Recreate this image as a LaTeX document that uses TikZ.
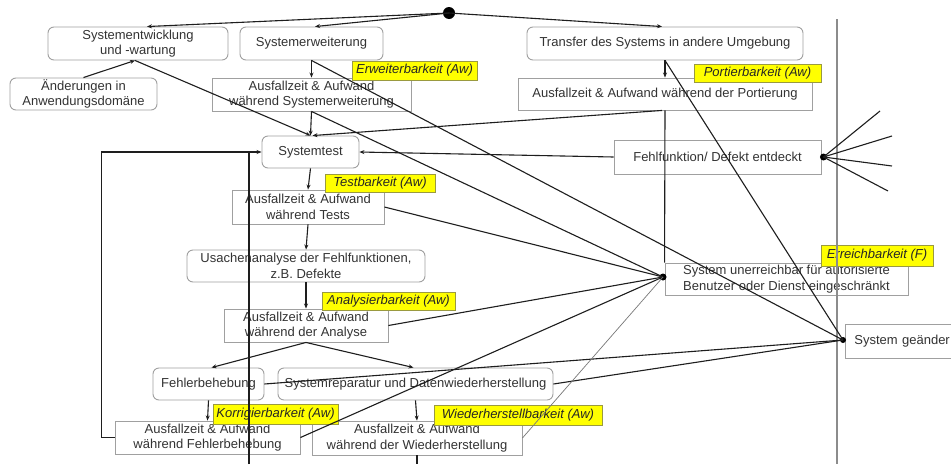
\documentclass[tikz,border=0pt]{standalone}
\usepackage{fontspec}
\setmainfont{Liberation Sans}
\usetikzlibrary{arrows.meta,calc}
\definecolor{boxline}{HTML}{A0A0A0}
\definecolor{ink}{HTML}{333333}
\definecolor{wirecol}{HTML}{1E1E1E}
\definecolor{tagfill}{HTML}{FFFF00}
\definecolor{tagline}{HTML}{9A9A40}
\definecolor{sepcol}{HTML}{8C8C8C}

\begin{document}
\begin{tikzpicture}[x=1pt,y=-1pt,
  every node/.style={font=\fontsize{13}{15.5}\selectfont, text=ink, inner sep=0pt, align=center},
  rbox/.style={draw=boxline, line width=0.9pt, rounded corners=6pt, fill=white},
  sbox/.style={draw=boxline, line width=0.9pt, fill=white},
  tag/.style={draw=tagline, line width=0.6pt, fill=tagfill, text=black!85,
              font=\fontsize{13}{15.5}\selectfont\itshape},
  wire/.style={draw=wirecol, line width=1.1pt},
  arr/.style={wire, -{Stealth[length=5pt,width=4pt]}},
  junction/.style={circle, fill=black, inner sep=0pt, minimum size=#1},
]
\useasboundingbox (0,0) rectangle (951,464);
\fill[white] (0,0) rectangle (951,464);
\clip (0,0) rectangle (951,464);

% ---------- boxes ----------
\node[rbox, minimum width=180, minimum height=33] (sysent)  at (138,43.5)   {Systementwicklung\\und -wartung};
\node[rbox, minimum width=147, minimum height=32] (aend)    at (83.5,94)    {Änderungen in\\Anwendungsdomäne};
\node[rbox, minimum width=143, minimum height=33] (syserw)  at (311.5,43.5) {Systemerweiterung};
\node[rbox, minimum width=276, minimum height=33] (transfer) at (665,43.5)  {Transfer des Systems in andere Umgebung};
\node[sbox, minimum width=199, minimum height=33] (afse)    at (311.5,94.5) {Ausfallzeit \& Aufwand\\während Systemerweiterung};
\node[sbox, minimum width=294, minimum height=32] (afport)  at (665,94)     {Ausfallzeit \& Aufwand während der Portierung};
\node[rbox, minimum width=97,  minimum height=32] (systest) at (310.5,152)  {Systemtest};
\node[sbox, minimum width=207, minimum height=34] (fehlf)   at (717.5,157)  {Fehlfunktion/ Defekt entdeckt};
\node[sbox, minimum width=152, minimum height=34] (aftest)  at (308,207)    {Ausfallzeit \& Aufwand\\während Tests};
\node[rbox, minimum width=238, minimum height=32] (ursache) at (306,266)    {Usachenanalyse der Fehlfunktionen,\\z.B. Defekte};
\node[sbox, minimum width=164, minimum height=33] (afana)   at (306,325.5)  {Ausfallzeit \& Aufwand\\während der Analyse};
\node[rbox, minimum width=111, minimum height=32] (fehlerb) at (208.5,384)  {Fehlerbehebung};
\node[rbox, minimum width=275, minimum height=32] (sysrep)  at (415.5,384)  {Systemreparatur und Datenwiederherstellung};
\node[sbox, minimum width=185, minimum height=33] (affb)    at (207.5,437.5) {Ausfallzeit \& Aufwand\\während Fehlerbehebung};
\node[sbox, minimum width=210, minimum height=34] (afwh)    at (417,438)    {Ausfallzeit \& Aufwand\\während der Wiederherstellung};
\node[sbox, minimum width=243, minimum height=32] (unerr)   at (786.5,279)  {System unerreichbar für autorisierte\\Benutzer oder Dienst eingeschränkt};
% this box runs on past the right edge of the drawing
\node[sbox, minimum height=34, text width=125, inner xsep=9pt, align=left, anchor=west] (geaend) at (845,341) {System geänder};

% ---------- quality tags ----------
\node[tag, minimum width=125, minimum height=19] (tagerw)  at (414.5,70.5) {Erweiterbarkeit (Aw)};
\node[tag, minimum width=127, minimum height=18] (tagport) at (757.5,73)   {Portierbarkeit (Aw)};
\node[tag, minimum width=110, minimum height=18] (tagtest) at (380,183)    {Testbarkeit (Aw)};
\node[tag, minimum width=133, minimum height=18] (tagana)  at (388.5,301)  {Analysierbarkeit (Aw)};
\node[tag, minimum width=125, minimum height=20] (tagkorr) at (275.5,414.5) {Korrigierbarkeit (Aw)};
\node[tag, minimum width=168, minimum height=20] (tagwh)   at (518,415)    {Wiederherstellbarkeit (Aw)};
\node[tag, minimum width=112, minimum height=21] (tagerr)  at (877,255.5)  {Erreichbarkeit (F)};

% ---------- junction points ----------
\node[junction=12pt] (start) at (449,13) {};
\node[junction=7pt]  (fdot)  at ([xshift=2]fehlf.east) {};
\node[junction=7pt]  (udot)  at (663,277) {};
\node[junction=6pt]  (gdot)  at (843,340) {};

\coordinate (f1) at (880,111);
\coordinate (f2) at (892,136);
\coordinate (f3) at (892,166);
\coordinate (f4) at (888,191);
\coordinate (septop) at (837,19);
\coordinate (sepbot) at (837,464);
\coordinate (lowleft) at (249,464);
\coordinate (lowmid) at (417,464);

% ---------- separator ----------
\draw[draw=sepcol, line width=1.3pt] (septop) -- (sepbot);

% ---------- connectors ----------
\draw[arr] (start.center) -- ([xshift=9]sysent.north);
\draw[arr] (start.center) -- ([xshift=3.5]syserw.north);
\draw[arr] (start.center) -- ([xshift=-3]transfer.north);

\draw[arr] (aend.north) -- ([xshift=-3]sysent.south);
\draw[arr] ([xshift=-3]sysent.south) -- (systest.north);

\draw[arr] (syserw.south) -- (afse.north);
\draw[wire] (syserw.south) -- (gdot.center);
\draw[arr] (afse.south) -- (systest.north);
\draw[wire] (afse.south) -- (udot.center);

\draw[arr] (transfer.south) -- (afport.north);
\draw[wire] (transfer.south) -- (gdot.center);
\draw[arr] ([xshift=-3]afport.south) -- ([xshift=2]systest.north);
\draw[wire] (afport.south) -- (unerr.north west);

\draw[arr] (fehlf.west) -- (systest.east);
\foreach \t in {f1,f2,f3,f4} \draw[wire] (fdot.center) -- (\t);

\draw[arr] (affb.west) -- ++(-13,0) |- (systest.west);
\draw[wire] (lowleft) -- (lowleft |- systest.west);

\draw[arr] (systest.south) -- (aftest.north);
\draw[arr] (aftest.south) -- (ursache.north);
\draw[wire] (aftest.east) -- (udot.center);
\draw[arr] (ursache.south) -- (afana.north);
\draw[wire] (afana.east) -- (udot.center);
\draw[arr] (afana.south) -- ([xshift=3]fehlerb.north);
\draw[arr] (afana.south) -- ([xshift=-2]sysrep.north);
\draw[arr] (fehlerb.south) -- (affb.north);
\draw[arr] (sysrep.south) -- (afwh.north);
\draw[wire] (fehlerb.east) -- (gdot.center);
\draw[wire] (sysrep.east) -- (gdot.center);
\draw[wire] (affb.east) -- (udot.center);
\draw[draw=wirecol!60, line width=0.7pt] (afwh.east) -- (udot.center);
\draw[wire] (afwh.south) -- (lowmid);
\end{tikzpicture}
\end{document}
